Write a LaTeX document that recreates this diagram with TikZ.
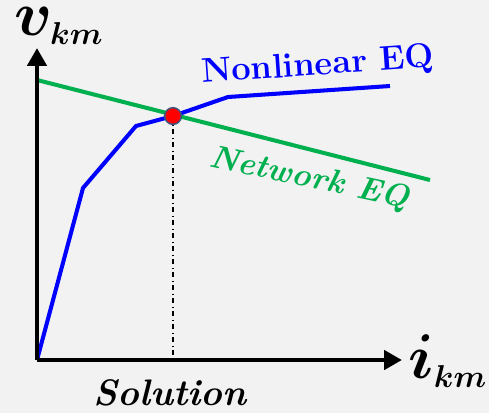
\RequirePackage{fix-cm}
\documentclass[tikz,border=0pt]{standalone}
\usepackage{amsmath}
\usepackage{bm}
\usepackage{fontspec}
\usepackage{tikz}
\usetikzlibrary{arrows.meta}
\usetikzlibrary{positioning}
\tikzset{axisline/.style = {line width=2.8pt, -{Triangle[length=10.2pt, width=10.8pt]}},
         curve/.style = {line width=2.3pt},
         lbl/.style = {font=\fontsize{20}{22}\selectfont\bfseries, inner sep=0pt}}
\newcommand{\axlabel}[2]{\fontsize{36}{38}\selectfont$\bm{#1}_{\mbox{\fontsize{18}{20}\selectfont$\bm{#2}$}}$}
\definecolor{mbg}{rgb}{0.949, 0.949, 0.949}
\definecolor{mgreen}{rgb}{0, 0.69, 0.31}
\definecolor{mblue}{rgb}{0, 0, 1}
\definecolor{mring}{rgb}{0.25, 0.33, 0.5}

\begin{document}
\begin{tikzpicture}[x=0.02cm, y=-0.02cm]
    \fill [mbg] (0, 0) rectangle (489, 413);
    \useasboundingbox (0, 0) rectangle (489, 413);

    \coordinate (o) at (37, 360);
    \coordinate (ytip) at (37, 48);
    \coordinate (xtip) at (402, 360);
    \coordinate (sol) at (173, 116);
    \coordinate (solx) at (173, 360);

    % network line
    \coordinate (n0) at (37, 80);
    \coordinate (n1) at (430, 180);
    \draw [mgreen, curve] (n0) -- (n1);

    % nonlinear curve
    \coordinate (c1) at (83, 188);
    \coordinate (c2) at (136, 126);
    \coordinate (c3) at (228, 97);
    \coordinate (c4) at (390, 86);
    \draw [mblue, curve, line join=round] (o) -- (c1) -- (c2) -- (sol) -- (c3) -- (c4);

    \draw [dash dot, thick] (sol) -- (solx);

    \draw [axisline] (o) -- (ytip);
    \draw [axisline] (o) -- (xtip);

    \node (dot) [circle, fill=red, draw=mring, line width=0.85pt, minimum size=9.5pt, inner sep=0pt] at (sol) {};

    \node (vkm) [inner sep=0pt, anchor=base west] at (14, 35) {\axlabel{v}{km}};
    \node (ikm) [inner sep=0pt, anchor=base west] at (408, 378) {\axlabel{i}{km}};
    \node (solution) [lbl, font=\fontsize{21}{23}\selectfont\bfseries, anchor=base] at (170, 405) {\itshape Solution};
    \node (nonlin) [lbl, mblue, font=\fontsize{19.5}{22}\selectfont\bfseries, rotate=4, anchor=base west] at (202, 83) {Nonlinear EQ};
    \node (netw) [lbl, mgreen, font=\fontsize{18.5}{21}\selectfont\bfseries, rotate=-12, anchor=base west] at (208, 166) {\itshape Network EQ};
\end{tikzpicture}
\end{document}
